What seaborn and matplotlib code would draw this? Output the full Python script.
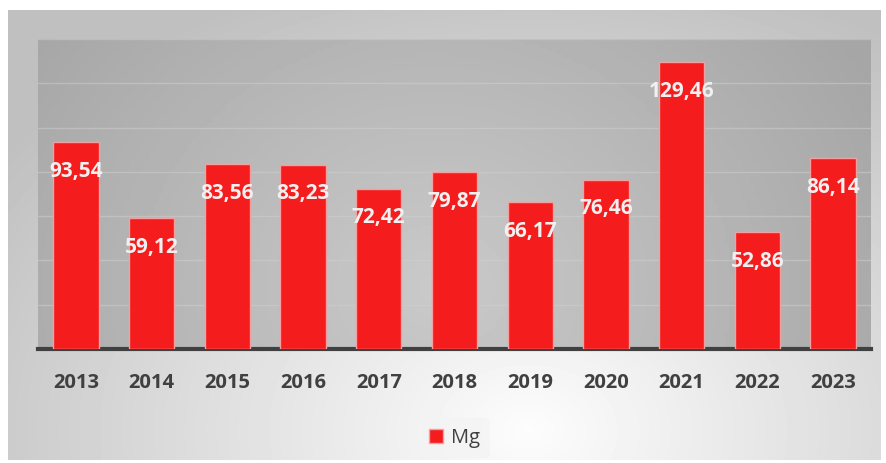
import numpy as np
import pandas as pd
import matplotlib.pyplot as plt
import seaborn as sns

# Dados
anos = ['2013', '2014', '2015', '2016', '2017', '2018', '2019', '2020', '2021', '2022', '2023']
valores = [93.54, 59.12, 83.56, 83.23, 72.42, 79.87, 66.17, 76.46, 129.46, 52.86, 86.14]
serie = 'Mg'

df = pd.DataFrame({'ano': anos, 'valor': valores})

sns.set_style('white')
plt.rcParams['font.family'] = ['Open Sans', 'DejaVu Sans']

fig = plt.figure(figsize=(8.87, 4.63), dpi=100)
fig.patch.set_facecolor('white')

# Moldura cinza com gradiente radial
W, H = 887, 463
bg = fig.add_axes([8 / W, 1 - 460 / H, (881 - 8) / W, (460 - 10) / H], zorder=0)
yy, xx = np.mgrid[0:450, 0:873]
d = np.sqrt(((xx - 520) / 650.0) ** 2 + ((yy - 420) / 480.0) ** 2)
bg.imshow(0.99 - 0.24 * np.clip(d, 0, 1), cmap='gray', vmin=0, vmax=1, aspect='auto')
bg.axis('off')

# Area do grafico
ax = fig.add_axes([38 / W, 1 - 349 / H, (871 - 38) / W, (349 - 39) / H], zorder=1)
yy, xx = np.mgrid[0:100, 0:200]
d2 = np.sqrt(((xx - 95) / 120.0) ** 2 + ((yy - 80) / 140.0) ** 2)
ax.imshow(0.79 - 0.14 * np.clip(d2, 0, 1), cmap='gray', vmin=0, vmax=1, aspect='auto',
          extent=(-0.5, 10.5, 0, 140), zorder=0)

sns.barplot(data=df, x='ano', y='valor', color='#f41c1c', width=0.6, saturation=1,
            edgecolor='#f3a0a0', linewidth=1, ax=ax, zorder=3, label=serie)

ax.set_xlim(-0.5, 10.5)
ax.set_ylim(0, 140)
ax.set_yticks(range(0, 141, 20))
ax.yaxis.grid(True, color='#d0d0d0', linewidth=1, alpha=0.5, zorder=1)
ax.set_axisbelow(True)
ax.set_yticklabels([])
ax.tick_params(axis='y', length=0)
ax.tick_params(axis='x', length=0, pad=17)
for lbl in ax.get_xticklabels():
    lbl.set_fontweight('bold')
    lbl.set_fontsize(14.5)
    lbl.set_color('#404040')
ax.set_xlabel('')
ax.set_ylabel('')
for s in ['top', 'left', 'right']:
    ax.spines[s].set_visible(False)
ax.spines['bottom'].set_color('#404040')
ax.spines['bottom'].set_linewidth(3)

# Rotulos dos valores
for i, v in enumerate(valores):
    ax.annotate(f'{v:.2f}'.replace('.', ','), (i, v), xytext=(0, -21), textcoords='offset points',
                ha='center', va='center', color='#f0f0f0', fontsize=15, fontweight='bold', zorder=5)

leg = ax.legend(loc='upper center', bbox_to_anchor=(0.5, -0.19), frameon=True, fontsize=14.5,
                handlelength=0.7, handleheight=0.7, handletextpad=0.4, borderpad=0.5)
leg.get_frame().set_facecolor('#f4f4f4')
leg.get_frame().set_edgecolor('none')
for t in leg.get_texts():
    t.set_color('#404040')

fig.savefig('out.png', dpi=100)
